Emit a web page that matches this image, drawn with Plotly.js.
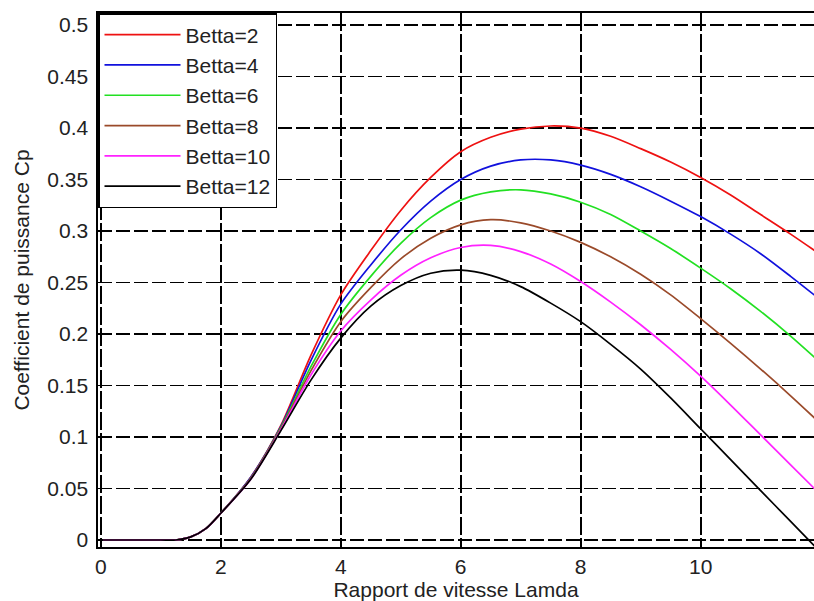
<!DOCTYPE html>
<html>
<head>
<meta charset="utf-8">
<script src="https://cdn.plot.ly/plotly-3.0.1.min.js"></script>
<style>
  html, body { margin: 0; padding: 0; background: #fff; overflow: hidden; }
  #chart { width: 814px; height: 601px; }
</style>
</head>
<body>
<div id="chart"></div>
<script>
// Tip speed ratio (lambda)
const lambda = [0, 0.5, 1, 1.25, 1.5, 1.75, 2, 2.5, 3, 3.5, 4, 4.5, 5, 5.5, 6, 6.5, 7, 7.5, 8, 8.5, 9, 9.5, 10, 10.5, 11, 11.5, 12];

// Power coefficient Cp for each pitch angle
const cpBeta2  = [0, 0, 0, 0, 0.003, 0.011, 0.026, 0.061, 0.111, 0.179, 0.238, 0.281, 0.320, 0.352, 0.377, 0.391, 0.399, 0.402, 0.400, 0.392, 0.380, 0.367, 0.352, 0.335, 0.316, 0.297, 0.277];
const cpBeta4  = [0, 0, 0, 0, 0.003, 0.011, 0.026, 0.061, 0.110, 0.174, 0.229, 0.267, 0.301, 0.329, 0.350, 0.363, 0.369, 0.369, 0.364, 0.355, 0.343, 0.329, 0.314, 0.297, 0.278, 0.256, 0.233];
const cpBeta6  = [0, 0, 0, 0, 0.003, 0.011, 0.026, 0.060, 0.109, 0.168, 0.219, 0.256, 0.288, 0.313, 0.330, 0.338, 0.340, 0.336, 0.328, 0.316, 0.300, 0.283, 0.264, 0.244, 0.222, 0.198, 0.172];
const cpBeta8  = [0, 0, 0, 0, 0.003, 0.011, 0.026, 0.060, 0.108, 0.164, 0.212, 0.245, 0.273, 0.293, 0.306, 0.311, 0.308, 0.300, 0.289, 0.275, 0.258, 0.238, 0.215, 0.191, 0.166, 0.140, 0.113];
const cpBeta10 = [0, 0, 0, 0, 0.003, 0.011, 0.026, 0.059, 0.107, 0.160, 0.203, 0.233, 0.257, 0.274, 0.284, 0.286, 0.280, 0.268, 0.251, 0.231, 0.209, 0.185, 0.159, 0.131, 0.102, 0.073, 0.044];
const cpBeta12 = [0, 0, 0, 0, 0.003, 0.011, 0.026, 0.059, 0.106, 0.155, 0.196, 0.227, 0.247, 0.259, 0.262, 0.257, 0.246, 0.230, 0.212, 0.190, 0.166, 0.138, 0.108, 0.078, 0.048, 0.018, -0.012];

const seriesNames = ["Betta=2", "Betta=4", "Betta=6", "Betta=8", "Betta=10", "Betta=12"];
const seriesValues = [cpBeta2, cpBeta4, cpBeta6, cpBeta8, cpBeta10, cpBeta12];
const seriesColors = ["#ee1111", "#1111dd", "#22e022", "#9a4a2a", "#ff22ff", "#000000"];

// Tick labels
const xTickVals = [0, 2, 4, 6, 8, 10];
const xTickText = ["0", "2", "4", "6", "8", "10"];
const yTickVals = [0, 0.05, 0.1, 0.15, 0.2, 0.25, 0.3, 0.35, 0.4, 0.45, 0.5];
const yTickText = ["0", "0.05", "0.1", "0.15", "0.2", "0.25", "0.3", "0.35", "0.4", "0.45", "0.5"];

const FONT = "Liberation Sans, Arial, Helvetica, sans-serif";

const traces = seriesValues.map((vals, i) => ({
  x: lambda,
  y: vals,
  type: "scatter",
  mode: "lines",
  name: seriesNames[i],
  line: { color: seriesColors[i], width: 1.7, shape: "spline", smoothing: 0.8 },
  hoverinfo: "x+y+name"
}));

const layout = {
  width: 814,
  height: 601,
  margin: { l: 98, r: 0, t: 13, b: 54, pad: 0 },
  paper_bgcolor: "#ffffff",
  plot_bgcolor: "#ffffff",
  font: { family: FONT, size: 21, color: "#222222" },
  showlegend: true,
  legend: {
    x: 0, y: 1, xanchor: "left", yanchor: "top",
    bgcolor: "#ffffff",
    bordercolor: "#000000",
    borderwidth: 1.5,
    font: { family: FONT, size: 21, color: "#222222" },
    traceorder: "normal",
    itemwidth: 76
  },
  xaxis: {
    range: [-0.047, 11.89],
    tickmode: "array",
    tickvals: xTickVals,
    ticktext: xTickText,
    ticks: "inside",
    ticklen: 5,
    tickwidth: 1.3,
    tickcolor: "#000000",
    showline: true,
    linecolor: "#000000",
    linewidth: 1.6,
    mirror: "ticks",
    showgrid: true,
    gridcolor: "#000000",
    gridwidth: 2,
    griddash: "18px,3px",
    zeroline: false,
    ticklabelstandoff: 0,
    title: { text: "Rapport de vitesse Lamda", font: { family: FONT, size: 21, color: "#222222" }, standoff: 4 },
    automargin: false
  },
  yaxis: {
    range: [-0.0068, 0.5117],
    tickmode: "array",
    tickvals: yTickVals,
    ticktext: yTickText,
    ticks: "inside",
    ticklen: 5,
    tickwidth: 1.3,
    tickcolor: "#000000",
    showline: true,
    linecolor: "#000000",
    linewidth: 1.6,
    mirror: false,
    showgrid: true,
    gridcolor: "#000000",
    gridwidth: 1.8,
    griddash: "14px,4px",
    zeroline: false,
    ticklabelstandoff: 4,
    title: { text: "Coefficient de puissance Cp", font: { family: FONT, size: 21, color: "#222222" }, standoff: 12 },
    automargin: false
  }
};

Plotly.newPlot("chart", traces, layout, { displayModeBar: false, staticPlot: true });
</script>
</body>
</html>
